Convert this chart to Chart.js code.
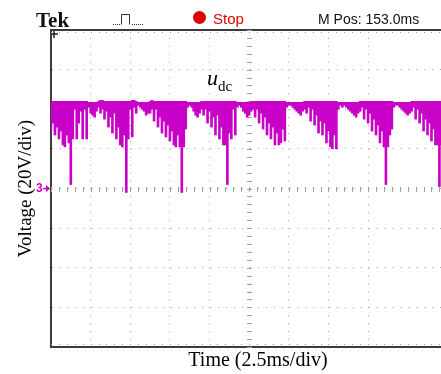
<!DOCTYPE html>
<html>
<head>
<meta charset="utf-8">
<title>u_dc waveform</title>
<script src="https://cdn.jsdelivr.net/npm/chart.js@4/dist/chart.umd.min.js"></script>
<style>
  html, body { margin: 0; padding: 0; background: #fff; }
  #wrap { position: relative; width: 441px; height: 374px; overflow: hidden; }
  #wrap canvas { position: absolute; left: 0; top: 0; }
  .t { position: absolute; white-space: nowrap; line-height: 1; }
  #tek { left: 36px; top: 8px; font: bold 21px "Liberation Serif", serif; color: #111; }
  #stop { left: 213px; top: 10px; font: 15px "Liberation Sans", Arial, sans-serif; color: #e00000; }
  #mpos { left: 318px; top: 11px; font: 14px "Liberation Sans", Arial, sans-serif; color: #111; }
  #udc { left: 207px; top: 65px; font: italic 22px "Liberation Serif", serif; color: #000; }
  #udc span { font-style: normal; font-size: 15px; position: relative; top: 6px; }
  #xtitle { left: 158px; width: 200px; text-align: center; top: 348px; font: 20px "Liberation Serif", serif; color: #000; }
</style>
</head>
<body>
<div id="wrap">
  <canvas id="scope" width="441" height="374"></canvas>
  <div class="t" id="tek">Tek</div>
  <div class="t" id="stop">Stop</div>
  <div class="t" id="mpos">M Pos: 153.0ms</div>
  <div class="t" id="udc">u<span>dc</span></div>
  <div class="t" id="xtitle">Time (2.5ms/div)</div>
</div>
<script>
// Horizontal: 2.5 ms per division, vertical: 20 V per division (channel 3, ground at 0 V)
const msPerDiv = 2.5;
const voltsPerDiv = 20;
const timeSpanMs = 24.6;          // visible part of the 10-division record
const voltRange = [-80, 80];
const sampleStepMs = 0.125;       // one peak-detect column per sample step

// Lower edge of each peak-detect column (V)
const vLow = [
  29, 33, 27, 31, 25, 29, 22, 21, 27, 23,
   2, 25, 40, 25, 33, 39, 25, 40, 25, 41,
  38, 37, 36, 39, 41, 38, 40, 35, 39, 31,
  36, 28, 38, 25, 31, 22, 21, 27, -2, 25,
  40, 26, 41, 38, 42, 41, 40, 39, 37, 38,
  38, 40, 34, 40, 31, 36, 28, 34, 26, 32,
  24, 29, 22, 21, 27, 21, -2, 21, 30, 41,
  42, 41, 39, 37, 36, 38, 40, 37, 40, 33,
  39, 31, 36, 27, 37, 25, 31, 22, 22,  2,
  28, 25, 40, 27, 41, 42, 41, 39, 38, 36,
  37, 39, 40, 36, 40, 33, 38, 30, 36, 27,
  33, 25, 31, 22, 28, 22, 23, 30, 24, 41,
  42, 42, 41, 40, 39, 38, 37, 39, 40, 38,
  41, 34, 40, 32, 37, 28, 34, 27, 33, 23,
  29, 21, 20, 27, 20, 40, 42, 41, 42, 41,
  40, 39, 38, 37, 36, 38, 39, 41, 35, 40,
  33, 38, 29, 35, 27, 32, 23, 29, 21,  2,
  21, 27, 30, 41, 42, 42, 41, 40, 39, 38,
  37, 38, 39, 41, 35, 40, 33, 38, 29, 35,
  27, 33, 24, 30, 22, 22,  1, 22
];

// Upper edge of each peak-detect column (V)
const vHigh = [
  44, 44, 44, 44, 44, 44, 44, 44, 44, 44,
  44, 44, 44, 44, 44, 44, 44, 44, 44, 43.5,
  43.5, 43.5, 43.5, 43.5, 44, 44.5, 44.5, 44, 44, 44,
  44, 44, 44, 44, 44, 44, 44, 44, 44, 44,
  44, 44.5, 44.5, 44, 43.5, 43.5, 43.5, 43.5, 43.5, 43.5,
  44, 44.5, 44, 44, 44, 44, 44, 44, 44, 44,
  44, 44, 44, 44, 44, 44, 44, 44, 44, 43.5,
  43.5, 43.5, 43.5, 43.5, 43.5, 43.5, 44, 44, 44, 44,
  44, 44, 44, 44, 44, 44, 44, 44, 44, 44,
  44, 44, 44, 44, 43.5, 43.5, 43.5, 43.5, 43.5, 43.5,
  43.5, 44, 44, 44, 44, 44, 44, 44, 44, 44,
  44, 44, 44, 44, 44, 44, 44, 44, 44, 43.5,
  43.5, 43.5, 43.5, 43.5, 43.5, 43.5, 43.5, 43.5, 44, 44,
  44, 44, 44, 44, 44, 44, 44, 44, 44, 44,
  44, 44, 44, 44, 44, 43.5, 43.5, 43.5, 43.5, 43.5,
  43.5, 43.5, 43.5, 43.5, 43.5, 43.5, 44, 44, 44, 44,
  44, 44, 44, 44, 44, 44, 44, 44, 44, 44,
  44, 44, 44, 43.5, 43.5, 43.5, 43.5, 43.5, 43.5, 43.5,
  43.5, 43.5, 44, 44, 44, 44, 44, 44, 44, 44,
  44, 44, 44, 44, 44, 44, 44, 44
];

const traceColor = '#c800c8';
const gridColor = '#a0a0a0';
const frameColor = '#3c3c3c';
const minorMs = msPerDiv / 5;
const minorV = voltsPerDiv / 5;

const samples = vLow.map((lo, i) => ({ x: i * sampleStepMs, y: [lo, vHigh[i]] }));

// Graticule details, channel marker and status-bar icons
const scopeMarks = {
  id: 'scopeMarks',
  beforeDatasetsDraw(chart) {
    const { ctx, chartArea: a, scales: { x, y } } = chart;
    ctx.save();
    ctx.fillStyle = gridColor;
    const y0 = Math.round(y.getPixelForValue(0));
    for (let k = 0; k * minorMs <= x.max; k++) {
      const px = Math.round(x.getPixelForValue(k * minorMs));
      ctx.fillRect(px, y0 - 2, 1, 5);
      ctx.fillRect(px, Math.round(a.top) + 2, 1, 1);
      ctx.fillRect(px, Math.round(a.bottom) - 3, 1, 1);
    }
    const x0 = Math.round(x.getPixelForValue(5 * msPerDiv));
    for (let k = 0; voltRange[0] + k * minorV <= voltRange[1]; k++) {
      const py = Math.round(y.getPixelForValue(voltRange[0] + k * minorV));
      ctx.fillRect(x0 - 2, py, 5, 1);
    }
    ctx.restore();
  },
  afterDraw(chart) {
    const { ctx, chartArea: a, scales: { y } } = chart;
    ctx.save();
    // channel 3 ground reference
    const y0 = y.getPixelForValue(0);
    ctx.fillStyle = traceColor;
    ctx.strokeStyle = traceColor;
    ctx.font = 'bold 12px "Liberation Sans", Arial, sans-serif';
    ctx.textBaseline = 'middle';
    ctx.fillText('3', a.left - 15, y0 + 0.5);
    ctx.lineWidth = 1.5;
    ctx.beginPath();
    ctx.moveTo(a.left - 8, y0);
    ctx.lineTo(a.left - 2, y0);
    ctx.stroke();
    ctx.beginPath();
    ctx.moveTo(a.left - 1, y0);
    ctx.lineTo(a.left - 5, y0 - 3.5);
    ctx.lineTo(a.left - 5, y0 + 3.5);
    ctx.closePath();
    ctx.fill();

    // trigger position marker
    ctx.strokeStyle = '#222';
    ctx.lineWidth = 1.5;
    ctx.beginPath();
    ctx.moveTo(a.left + 1, a.top + 4);
    ctx.lineTo(a.left + 7, a.top + 4);
    ctx.moveTo(a.left + 3, a.top + 1);
    ctx.lineTo(a.left + 3, a.top + 8);
    ctx.stroke();

    // acquisition icon
    ctx.strokeStyle = '#333';
    ctx.fillStyle = '#333';
    ctx.lineWidth = 1;
    for (let px = 113; px <= 120; px += 2) ctx.fillRect(px, 24, 1, 1);
    for (let px = 132; px <= 142; px += 2) ctx.fillRect(px, 24, 1, 1);
    ctx.beginPath();
    ctx.moveTo(121.5, 24.5);
    ctx.lineTo(121.5, 14.5);
    ctx.lineTo(129.5, 14.5);
    ctx.lineTo(129.5, 24.5);
    ctx.stroke();

    // run/stop indicator
    ctx.fillStyle = '#dd0000';
    ctx.beginPath();
    ctx.arc(199.5, 17.5, 6.5, 0, Math.PI * 2);
    ctx.fill();
    ctx.restore();
  }
};

new Chart(document.getElementById('scope'), {
  type: 'bar',
  data: {
    datasets: [{
      data: samples,
      backgroundColor: traceColor,
      borderWidth: 0,
      barPercentage: 1,
      categoryPercentage: 1
    }]
  },
  options: {
    responsive: false,
    animation: false,
    devicePixelRatio: 1,
    layout: { padding: { left: 0, top: 30, right: 0, bottom: 27 } },
    plugins: { legend: { display: false }, tooltip: { enabled: false } },
    scales: {
      x: {
        type: 'linear', position: 'bottom', min: 0, max: timeSpanMs,
        offset: false,
        ticks: { display: false, stepSize: msPerDiv },
        afterBuildTicks: s => {
          s.ticks = s.ticks.filter(t => Math.abs(t.value / msPerDiv - Math.round(t.value / msPerDiv)) < 1e-6);
        },
        grid: { color: gridColor, lineWidth: 1, drawTicks: false, offset: false },
        border: { display: true, color: frameColor, width: 2, dash: [1, 6.92] }
      },
      xTop: {
        type: 'linear', position: 'top', min: 0, max: timeSpanMs,
        ticks: { display: false },
        grid: { display: false, drawTicks: false },
        border: { display: true, color: frameColor, width: 2 }
      },
      y: {
        min: voltRange[0], max: voltRange[1],
        ticks: { display: false, stepSize: voltsPerDiv },
        grid: { color: gridColor, lineWidth: 1, drawTicks: false },
        border: { display: true, color: frameColor, width: 2, dash: [1, 6.92] },
        title: {
          display: true,
          text: 'Voltage (20V/div)',
          color: '#000',
          font: { family: '"Liberation Serif", serif', size: 19, weight: 'normal' },
          padding: { top: 14.6, bottom: 13.6 }
        }
      }
    }
  },
  plugins: [scopeMarks]
});
</script>
</body>
</html>
